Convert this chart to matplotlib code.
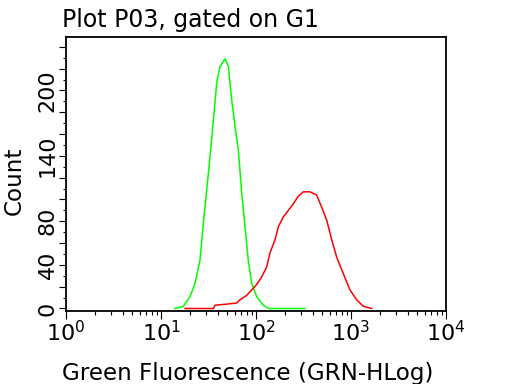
import numpy as np
import matplotlib.pyplot as plt
from matplotlib.ticker import MultipleLocator, FuncFormatter, LogLocator

# green histogram (control)
green_x = [14.0, 17.2, 20.2, 22.8, 25.7, 27.9, 30.3, 32.8, 35.6, 38.6, 41.8, 47.2,
           51.2, 55.5, 60.1, 65.2, 70.7, 76.6, 83.0, 90.0, 101.6, 119, 135, 328]
green_y = [0, 2, 11, 23, 44, 78, 109, 139, 173, 207, 222, 229,
           222, 191, 167, 145, 106, 75, 44, 23, 11, 3, 0, 0]

# red histogram (stained)
red_x = [17.9, 35.6, 37.0, 49.1, 62.6, 67.9, 79.8, 90.0, 101.6, 114.8, 129.5, 140.3,
         158.5, 171.8, 194, 219, 247, 279, 315, 370, 435, 491, 555, 627, 707, 830,
         975, 1147, 1349, 1652]
red_y = [0, 0, 3, 4, 5, 8, 12, 17, 22, 29, 38, 51,
         63, 75, 84, 90, 96, 103, 107, 107, 104, 93, 81, 63, 47, 32,
         17, 8, 2, 0]

ylabels_shown = [0, 40, 80, 140, 200]

fig = plt.figure(figsize=(5.12, 3.84), dpi=100)
ax = fig.add_axes([66/512, 1-311/384, 380/512, 274/384])

ax.plot(green_x, green_y, color='#00ff00', lw=1.1)
ax.plot(red_x, red_y, color='#ff0000', lw=1.1)

ax.set_xscale('log')
ax.set_xlim(1, 1e4)
ax.set_ylim(-2.3, 249)

ax.xaxis.set_major_locator(LogLocator(base=10, numticks=10))
ax.xaxis.set_minor_locator(LogLocator(base=10, subs=np.arange(2, 10), numticks=20))
ax.yaxis.set_major_locator(MultipleLocator(20))
ax.yaxis.set_minor_locator(MultipleLocator(10))
ax.yaxis.set_major_formatter(FuncFormatter(lambda v, p: '%d' % v if int(round(v)) in ylabels_shown else ''))

ax.tick_params(axis='x', which='major', length=5.8, width=0.8, direction='out', labelsize=16, pad=1)
ax.tick_params(axis='x', which='minor', length=3, width=0.8, direction='out')
ax.tick_params(axis='y', which='major', length=5, width=0.8, direction='out', labelsize=16, pad=1)
ax.tick_params(axis='y', which='minor', length=2, width=0.8, direction='out')
for lab in ax.get_yticklabels():
    lab.set_rotation(90)
    lab.set_va('center')

for s in ax.spines.values():
    s.set_linewidth(1.3)

fig.text(62/512, 1-26.7/384, 'Plot P03, gated on G1', fontsize=17, va='baseline', ha='left')
fig.text(62/512, 1-380/384, 'Green Fluorescence (GRN-HLog)', fontsize=16.6, va='baseline', ha='left')
fig.text(14/512, 1-181/384, 'Count', fontsize=16.6, rotation=90, ha='center', va='center')

fig.savefig('out.png', dpi=100)
